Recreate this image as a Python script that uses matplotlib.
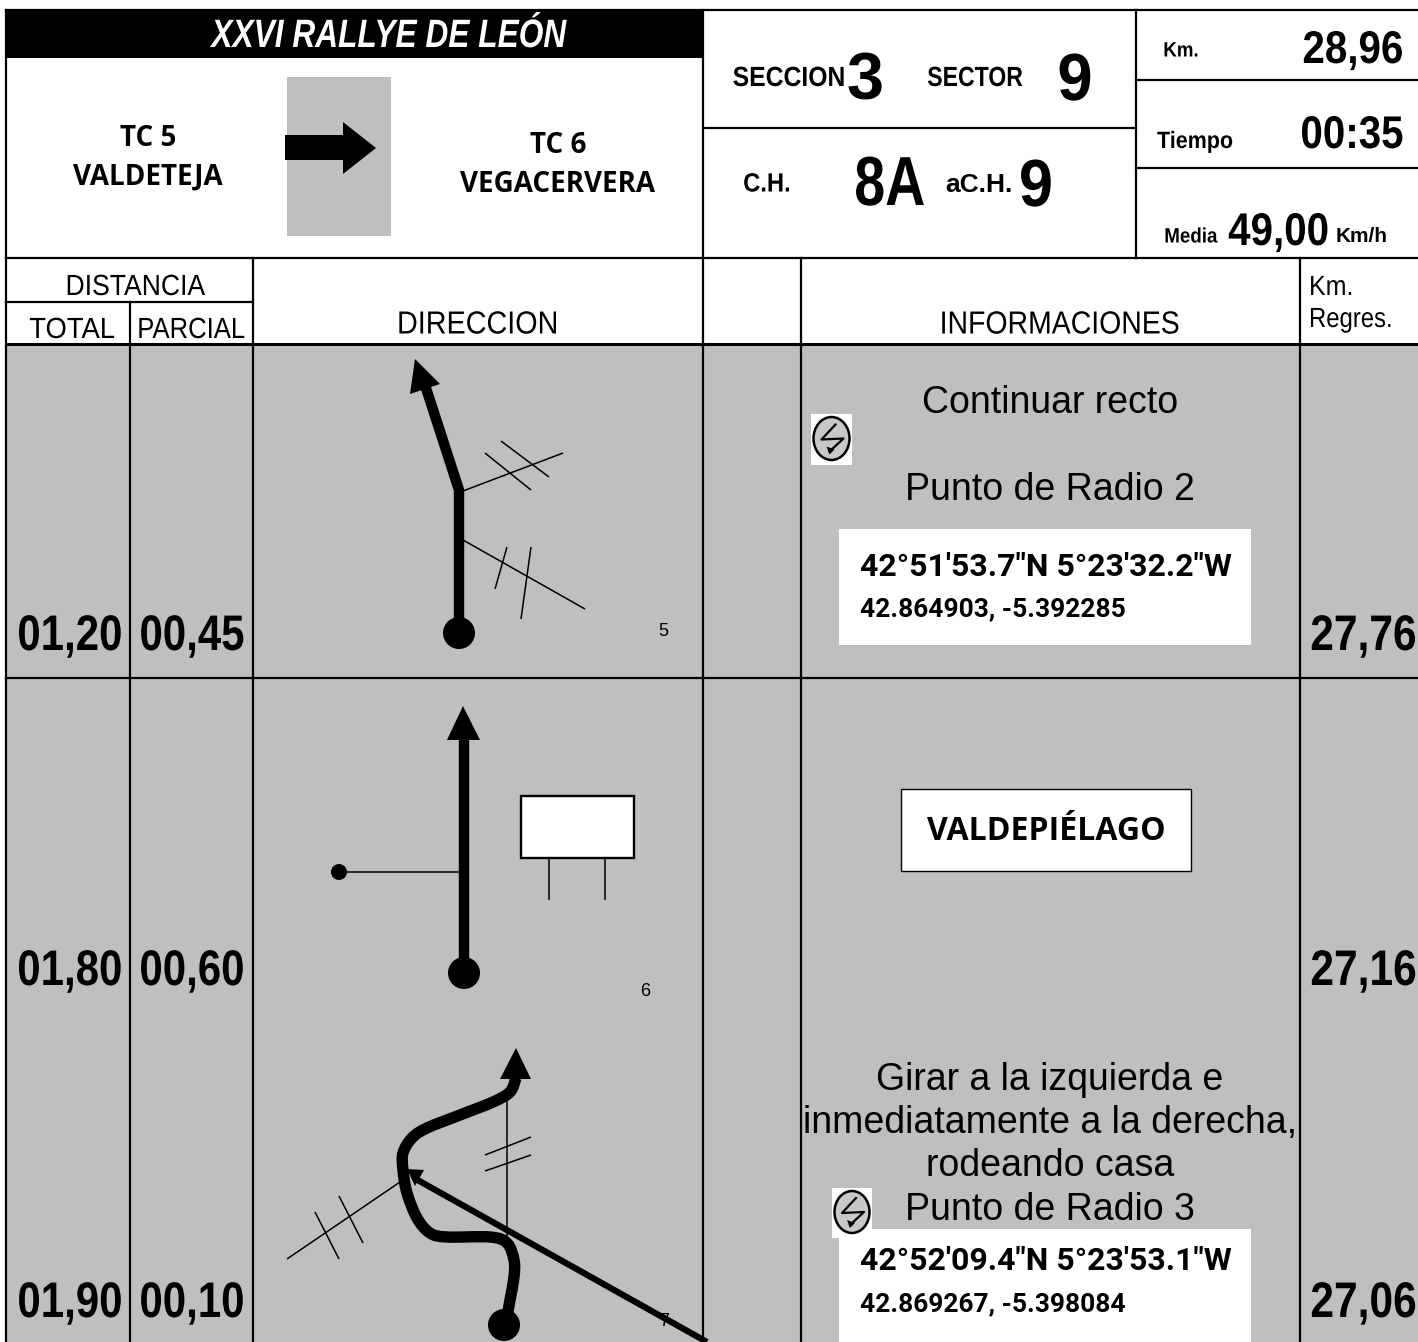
import matplotlib
matplotlib.use('Agg')
import matplotlib.pyplot as plt
from matplotlib.patches import Rectangle, Circle, Ellipse, Polygon, PathPatch
from matplotlib.patheffects import AbstractPathEffect
from matplotlib.path import Path
from matplotlib.transforms import Affine2D

ARIAL = ['Liberation Sans']
OPEN = ['Open Sans']
GREY = '#bfbfbf'

title = 'XXVI RALLYE DE LEÓN'
stage_from = ['TC 5', 'VALDETEJA']
stage_to = ['TC 6', 'VEGACERVERA']
total_km = ['01,20', '01,80', '01,90']
partial_km = ['00,45', '00,60', '00,10']
regres_km = ['27,76', '27,16', '27,06']
row_text_y = [633, 968, 1300]
note_numbers = ['5', '6', '7']
coords_1 = ['42°51\'53.7"N 5°23\'32.2"W', '42.864903, -5.392285']
coords_3 = ['42°52\'09.4"N 5°23\'53.1"W', '42.869267, -5.398084']
info_3 = ['Girar a la izquierda e', 'inmediatamente a la derecha,', 'rodeando casa', 'Punto de Radio 3']

fig = plt.figure(figsize=(14.18, 13.42), dpi=100)
ax = fig.add_axes([0, 0, 1, 1])
ax.set_xlim(0, 1418)
ax.set_ylim(1342, 0)
ax.axis('off')


class Squeeze(AbstractPathEffect):
    # no narrow font installed, so squeeze the glyphs sideways
    def __init__(self, sx, ha):
        super().__init__()
        self.sx = sx
        self.ha = ha

    def draw_path(self, renderer, gc, tpath, affine, rgbFace=None):
        xs = tpath.vertices[:, 0]
        pivot = {'left': xs.min(), 'center': (xs.min() + xs.max()) / 2, 'right': xs.max()}[self.ha]
        squeeze = Affine2D().translate(-pivot, 0).scale(self.sx, 1).translate(pivot, 0)
        renderer.draw_path(gc, tpath, squeeze + affine, rgbFace)


def txt(x, y, s, size, sx=1.0, family=ARIAL, weight='normal', ha='center', color='black', style='normal', z=10):
    t = ax.text(x, y - 1, s, fontsize=size, family=family, fontweight=weight, ha=ha, va='center_baseline',
                color=color, style=style, zorder=z)
    if sx != 1.0:
        t.set_path_effects([Squeeze(sx, ha)])


def thin(x0, y0, x1, y1, lw=1.1, z=3):
    ax.plot([x0, x1], [y0, y1], color='black', lw=lw, solid_capstyle='butt', zorder=z)


def line(x0, y0, x1, y1, lw=1.6, z=8):
    ax.plot([x0, x1], [y0, y1], color='black', lw=lw, solid_capstyle='projecting', zorder=z)


def smooth(points, lw):
    # catmull-rom through the points, as bezier segments
    verts = [points[0]]
    codes = [Path.MOVETO]
    pts = [points[0]] + points + [points[-1]]
    for i in range(1, len(pts) - 2):
        p0, p1, p2, p3 = pts[i - 1], pts[i], pts[i + 1], pts[i + 2]
        c1 = (p1[0] + (p2[0] - p0[0]) / 6, p1[1] + (p2[1] - p0[1]) / 6)
        c2 = (p2[0] - (p3[0] - p1[0]) / 6, p2[1] - (p3[1] - p1[1]) / 6)
        verts += [c1, c2, p2]
        codes += [Path.CURVE4] * 3
    ax.add_patch(PathPatch(Path(verts, codes), fc='none', ec='black', lw=lw, capstyle='butt', zorder=5))


def radio_icon(x0, y0, w, h):
    ax.add_patch(Rectangle((x0, y0), w, h, fc='white', ec='none', zorder=4))
    cx, cy = x0 + w / 2, y0 + h / 2 - 1
    ax.add_patch(Ellipse((cx, cy), w - 5, h - 8, fc='#c8c8c8', ec='black', lw=1.8, zorder=5))
    ax.plot([cx + 4, cx - 10, cx + 12, cx - 2], [cy - 14, cy + 1, cy, cy + 13], color='black', lw=1.6, zorder=6)
    ax.add_patch(Polygon([(cx - 2, cy + 16), (cx - 5, cy + 8), (cx + 3, cy + 11)], fc='black', ec='none', zorder=6))


# backgrounds
ax.add_patch(Rectangle((6, 344), 1412, 998, fc=GREY, ec='none', zorder=1))
ax.add_patch(Rectangle((6, 10), 697, 48, fc='black', ec='none', zorder=2))
ax.add_patch(Rectangle((287, 77), 104, 159, fc=GREY, ec='none', zorder=2))

# table lines
line(6, 10, 1418, 10)
line(6, 10, 6, 1342)
line(6, 258, 1418, 258)
line(6, 344, 1418, 344, lw=2.2)
line(6, 678, 1418, 678)
line(6, 302, 253, 302)
line(703, 128, 1136, 128)
line(1136, 80, 1418, 80)
line(1136, 168, 1418, 168)
line(130, 302, 130, 1342)
line(253, 258, 253, 1342)
line(703, 10, 703, 1342)
line(801, 258, 801, 1342)
line(1300, 258, 1300, 1342)
line(1136, 10, 1136, 258)

# header
txt(389, 33, title, 28.5, sx=0.8, weight='bold', style='italic', color='white')
txt(148, 136, stage_from[0], 20, family=OPEN, weight='bold')
txt(148, 175, stage_from[1], 20, family=OPEN, weight='bold')
txt(558, 143, stage_to[0], 20, family=OPEN, weight='bold')
txt(558, 182, stage_to[1], 20, family=OPEN, weight='bold')
ax.add_patch(Polygon([(285, 135), (343, 135), (343, 122), (376, 148), (343, 174), (343, 160), (285, 160)],
                     fc='black', ec='none', zorder=4))

txt(789, 77, 'SECCION', 20, sx=0.89, weight='bold')
txt(865, 77, '3', 48, weight='bold')
txt(975, 77, 'SECTOR', 20, sx=0.83, weight='bold')
txt(1075, 77, '9', 48, sx=0.95, weight='bold')
txt(767, 183, 'C.H.', 19, sx=0.9, weight='bold')
txt(890, 181, '8A', 50, sx=0.8, weight='bold')
txt(979, 183, 'aC.H.', 19, weight='bold')
txt(1036, 183, '9', 48, sx=0.92, weight='bold')
txt(1181, 50, 'Km.', 15, sx=0.9, weight='bold')
txt(1404, 47, '28,96', 33, sx=0.88, weight='bold', ha='right')
txt(1195, 140, 'Tiempo', 17, sx=0.91, weight='bold')
txt(1404, 132, '00:35', 33, sx=0.88, weight='bold', ha='right')
txt(1191, 236, 'Media', 15, sx=0.9, weight='bold')
txt(1279, 229, '49,00', 33, sx=0.88, weight='bold')
txt(1362, 236, 'Km/h', 15, weight='bold')

# column titles
txt(135, 285, 'DISTANCIA', 21, sx=0.91)
txt(72, 328, 'TOTAL', 21, sx=0.94)
txt(191, 328, 'PARCIAL', 21, sx=0.88)
txt(478, 323, 'DIRECCION', 23, sx=0.9)
txt(1060, 323, 'INFORMACIONES', 23, sx=0.89)
txt(1309, 286, 'Km.', 20, sx=0.9, ha='left')
txt(1309, 318, 'Regres.', 20, sx=0.86, ha='left')

# row values
for y, a, b, c in zip(row_text_y, total_km, partial_km, regres_km):
    txt(70, y, a, 36, sx=0.84, weight='bold')
    txt(192, y, b, 36, sx=0.84, weight='bold')
    txt(1417, y, c, 36, sx=0.85, weight='bold', ha='right')

# row 1 drawing
ax.plot([459, 459, 425], [633, 490, 385], color='black', lw=7.5, solid_joinstyle='miter', solid_capstyle='butt', zorder=5)
ax.add_patch(Polygon([(415, 359), (410, 394), (440, 384)], fc='black', ec='none', zorder=6))
ax.add_patch(Circle((459, 633), 16, fc='black', ec='none', zorder=6))
thin(463, 491, 563, 453)
thin(485, 453, 531, 490)
thin(501, 441, 549, 477)
thin(463, 540, 585, 609)
thin(507, 547, 495, 589)
thin(531, 547, 521, 619)
txt(663, 630, note_numbers[0], 13)

# row 2 drawing
ax.plot([464, 464], [973, 735], color='black', lw=7.5, solid_capstyle='butt', zorder=5)
ax.add_patch(Polygon([(463, 706), (447, 740), (480, 740)], fc='black', ec='none', zorder=6))
ax.add_patch(Circle((464, 973), 16, fc='black', ec='none', zorder=6))
ax.add_patch(Circle((339, 872), 8, fc='black', ec='none', zorder=6))
thin(339, 872, 460, 872)
ax.add_patch(Rectangle((521, 796), 113, 62, fc='white', ec='black', lw=1.7, zorder=4))
thin(549, 858, 549, 900)
thin(605, 858, 605, 900)
txt(645, 990, note_numbers[1], 13)

# row 3 drawing
smooth([(507, 1317), (510, 1300), (514, 1277), (514, 1260), (507, 1243), (490, 1237), (447, 1237), (430, 1233),
        (417, 1218), (407, 1193), (403, 1170), (403, 1153), (412, 1138), (427, 1128), (460, 1115), (493, 1102),
        (510, 1092), (516, 1078)], 8.2)
ax.add_patch(Polygon([(516, 1048), (500, 1079), (531, 1079)], fc='black', ec='none', zorder=6))
ax.add_patch(Circle((504, 1325), 16, fc='black', ec='none', zorder=6))
thin(507, 1097, 507, 1237)
thin(485, 1155, 531, 1137)
thin(485, 1171, 531, 1155)
thin(287, 1259, 400, 1182)
thin(315, 1212, 339, 1259)
thin(339, 1196, 363, 1243)
ax.plot([414, 707], [1178, 1342], color='black', lw=4.5, solid_capstyle='butt', zorder=9)
ax.add_patch(Polygon([(407, 1169), (424, 1170), (415, 1186)], fc='black', ec='none', zorder=9))
txt(664, 1320, note_numbers[2], 13, z=7)

# info column
txt(1050, 400, 'Continuar recto', 27)
txt(1050, 487, 'Punto de Radio 2', 27)
radio_icon(811, 414, 41, 51)
ax.add_patch(Rectangle((839, 529), 412, 116, fc='white', ec='none', zorder=4))
txt(860, 565, coords_1[0], 23, family=['Roboto'], weight='bold', ha='left')
txt(860, 608, coords_1[1], 19, family=['Roboto'], weight='bold', ha='left')

ax.add_patch(Rectangle((901, 789), 290, 82, fc='white', ec='black', lw=1, zorder=4))
txt(1046, 828, 'VALDEPIÉLAGO', 23, family=OPEN, weight='bold')

for y, s in zip([1077, 1120, 1163, 1207], info_3):
    txt(1050, y, s, 27)
radio_icon(832, 1188, 40, 50)
ax.add_patch(Rectangle((839, 1229), 412, 113, fc='white', ec='none', zorder=4))
txt(860, 1259, coords_3[0], 23, family=['Roboto'], weight='bold', ha='left')
txt(860, 1303, coords_3[1], 19, family=['Roboto'], weight='bold', ha='left')

fig.savefig('out.png', dpi=100)
